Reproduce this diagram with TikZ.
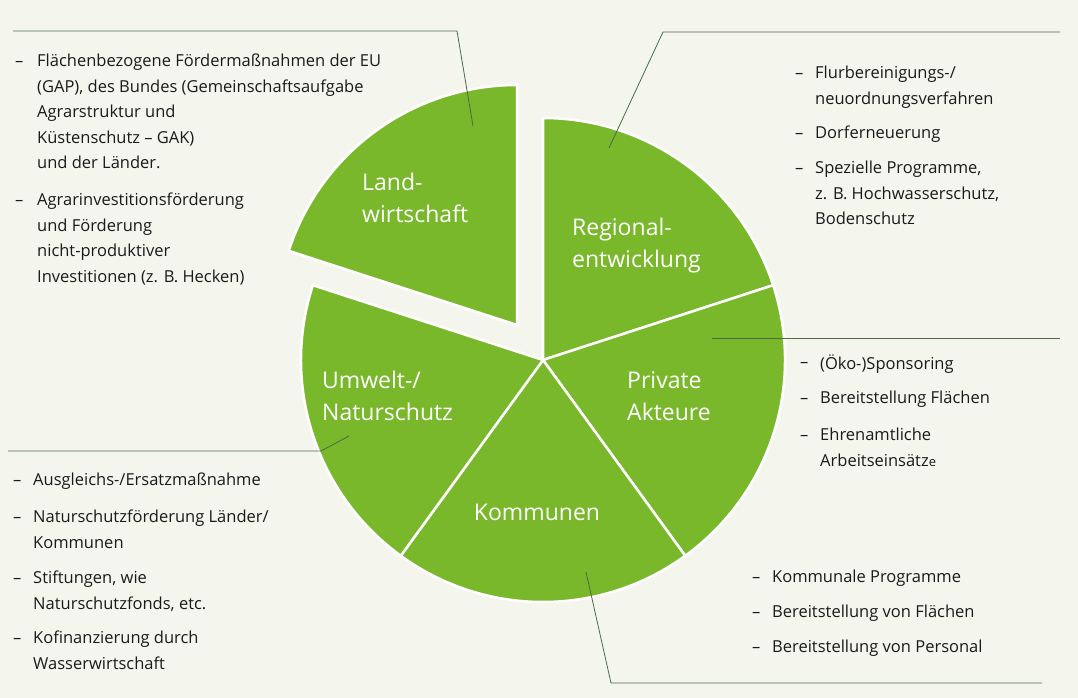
\documentclass[tikz,border=0pt]{standalone}
\usepackage{fontspec}
\setmainfont{Open Sans}
\definecolor{bg}{HTML}{F4F6EE}
\definecolor{pie}{HTML}{79B72B}
\definecolor{lead}{HTML}{4A6A4A}
\definecolor{txt}{HTML}{1A1A1A}
\newcommand\bitem[5]{%
  \node[dashn] (#1d) at (#2,{692-#4}) {–};
  \node[itemn,anchor=north west] (#1) at (#3,{692-#4+13}) {#5};}
\begin{document}
\begin{tikzpicture}[x=1pt,y=1pt,
  sector/.style={fill=pie,draw=white,line width=2.5pt,line join=round},
  leader/.style={draw=lead,line width=0.8pt},
  itemn/.style={inner sep=0pt,align=left,text=txt,font=\fontsize{16.5}{25.5}\selectfont},
  dashn/.style={inner sep=0pt,anchor=base west,text=txt,font=\fontsize{16.5}{25.5}\selectfont},
  lab/.style={inner sep=0pt,align=left,text=white,font=\fontsize{23}{32}\selectfont}]
\fill[bg] (0,0) rectangle (1078,698);
\useasboundingbox (0,0) rectangle (1078,698);
% pie
\coordinate (c) at (543,338);
\coordinate (cl) at (517,373);
\fill[sector] (c) -- ++(18:242) arc[start angle=18,end angle=90,radius=242] -- cycle;
\fill[sector] (c) -- ++(-54:242) arc[start angle=-54,end angle=18,radius=242] -- cycle;
\fill[sector] (c) -- ++(-126:242) arc[start angle=-126,end angle=-54,radius=242] -- cycle;
\fill[sector] (c) -- ++(162:242) arc[start angle=162,end angle=234,radius=242] -- cycle;
\fill[sector] (cl) -- ++(90:240) arc[start angle=90,end angle=162,radius=240] -- cycle;
% labels
\node[lab,anchor=west] (lw) at (362,500) {Land-\\wirtschaft};
\node[lab,anchor=west] (re) at (572,452) {Regional-\\entwicklung};
\node[lab,anchor=west] (pa) at (627,302) {Private\\Akteure};
\node[lab,anchor=west] (un) at (322,302) {Umwelt-/\\Naturschutz};
\node[lab] (ko) at (537,186) {Kommunen};
% leaders
\coordinate (l1a) at (13,667); \coordinate (l1b) at (457,667); \coordinate (l1c) at (473,572);
\draw[leader] (l1a) -- (l1b) -- (l1c);
\coordinate (l2a) at (609,550); \coordinate (l2b) at (663,666); \coordinate (l2c) at (1060,666);
\draw[leader] (l2a) -- (l2b) -- (l2c);
\coordinate (l3a) at (712,360); \coordinate (l3b) at (1060,360);
\draw[leader] (l3a) -- (l3b);
\coordinate (l4a) at (8,247); \coordinate (l4b) at (321,247); \coordinate (l4c) at (349,262);
\draw[leader] (l4a) -- (l4b) -- (l4c);
\coordinate (l5a) at (586,126); \coordinate (l5b) at (611,15); \coordinate (l5c) at (1042,15);
\draw[leader] (l5a) -- (l5b) -- (l5c);
% lists
\bitem{a1}{15}{37}{61}{Flächenbezogene Fördermaßnahmen der EU\\(GAP), des Bundes (Gemeinschaftsaufgabe\\Agrarstruktur und\\Küstenschutz – GAK)\\und der Länder.}
\bitem{a2}{15}{37}{200}{Agrarinvestitionsförderung\\und Förderung\\nicht-produktiver\\Investitionen (z. B. Hecken)}
\bitem{b1}{795}{815}{73}{Flurbereinigungs-/\\neuordnungsverfahren}
\bitem{b2}{795}{815}{133}{Dorferneuerung}
\bitem{b3}{795}{815}{168}{Spezielle Programme,\\z. B. Hochwasserschutz,\\Bodenschutz}
\bitem{c1}{800}{820}{362}{(Öko-)Sponsoring}
\bitem{c2}{800}{820}{398}{Bereitstellung Flächen}
\bitem{c3}{800}{820}{435}{Ehrenamtliche\\Arbeitseinsätz{\fontsize{13}{25.5}\selectfont e}}
\bitem{d1}{13}{33}{480}{Ausgleichs-/Ersatzmaßnahme}
\bitem{d2}{13}{33}{517}{Naturschutzförderung Länder/\\Kommunen}
\bitem{d3}{13}{33}{578}{Stiftungen, wie\\Naturschutzfonds, etc.}
\bitem{d4}{13}{33}{638}{Kofinanzierung durch\\Wasserwirtschaft}
\bitem{e1}{752}{772}{577}{Kommunale Programme}
\bitem{e2}{752}{772}{612}{Bereitstellung von Flächen}
\bitem{e3}{752}{772}{647}{Bereitstellung von Personal}
\end{tikzpicture}
\end{document}
